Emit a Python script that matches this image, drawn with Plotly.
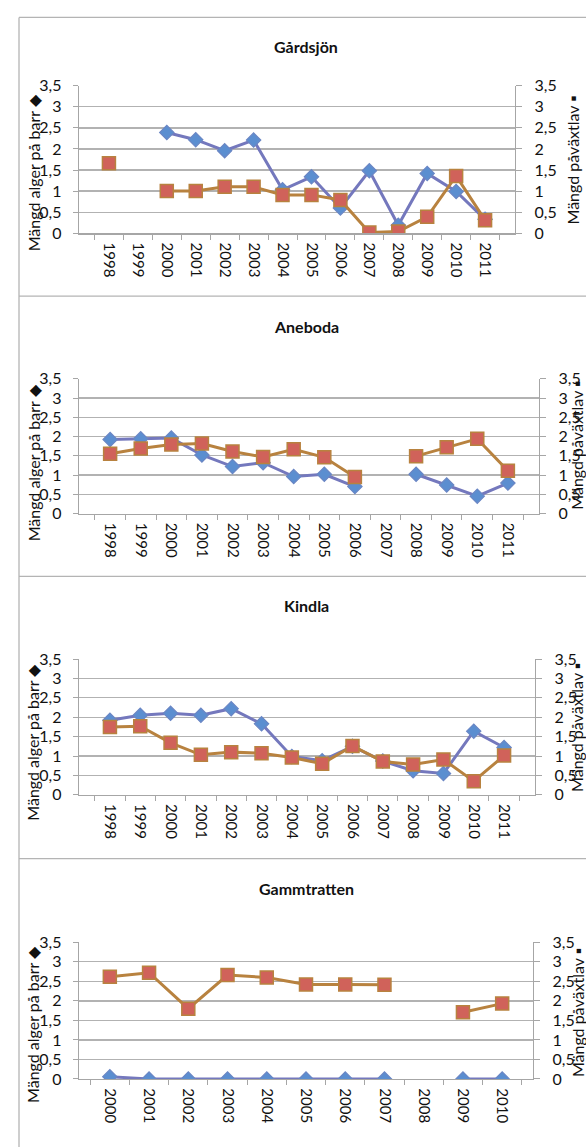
import plotly.graph_objects as go

W, H = 586, 1147

years_long = ["1998", "1999", "2000", "2001", "2002", "2003", "2004",
              "2005", "2006", "2007", "2008", "2009", "2010", "2011"]
years_gamm = ["2000", "2001", "2002", "2003", "2004", "2005", "2006",
              "2007", "2008", "2009", "2010"]

titles = ["Gårdsjön", "Aneboda", "Kindla", "Gammtratten"]

gardsjon_alger = [None, None, 2.39, 2.22, 1.96, 2.21, 1.03, 1.34, 0.60, 1.48, 0.19, 1.42, 0.99, 0.33]
gardsjon_lav = [1.66, None, 1.00, 1.00, 1.10, 1.10, 0.91, 0.91, 0.79, 0.02, 0.04, 0.39, 1.36, 0.31]

aneboda_alger = [1.92, 1.94, 1.96, 1.52, 1.22, 1.32, 0.96, 1.02, 0.70, None, 1.02, 0.74, 0.45, 0.79]
aneboda_lav = [1.55, 1.69, 1.79, 1.82, 1.61, 1.47, 1.67, 1.46, 0.95, None, 1.49, 1.72, 1.94, 1.11]

kindla_alger = [1.92, 2.05, 2.10, 2.05, 2.22, 1.83, 0.99, 0.88, 1.25, 0.87, 0.62, 0.55, 1.64, 1.22]
kindla_lav = [1.75, 1.77, 1.34, 1.03, 1.10, 1.07, 0.96, 0.80, 1.26, 0.86, 0.78, 0.91, 0.35, 1.01]

gamm_alger = [0.06, 0, 0, 0, 0, 0, 0, 0, None, 0, 0]
gamm_lav = [2.62, 2.72, 1.80, 2.66, 2.60, 2.42, 2.42, 2.41, None, 1.71, 1.93]

left_title = "Mängd alger på barr ◆"
right_title = "Mängd påväxtlav ▪"

panels = [
    dict(cats=years_long, a=gardsjon_alger, l=gardsjon_lav,
         x=(79, 515), y=(77, 227), title_y=37, lt_y=166, rt_x=572, rt_y=153),
    dict(cats=years_long, a=aneboda_alger, l=aneboda_lav,
         x=(79, 539), y=(375, 512), title_y=322, lt_y=461, rt_x=577, rt_y=443),
    dict(cats=years_long, a=kindla_alger, l=kindla_lav,
         x=(79, 535), y=(660, 798), title_y=606, lt_y=745, rt_x=577, rt_y=730),
    dict(cats=years_gamm, a=gamm_alger, l=gamm_lav,
         x=(79, 533), y=(948, 1087), title_y=893, lt_y=1032, rt_x=577, rt_y=1020),
]

def px(x):
    return x / W

def py(y):
    return 1 - y / H

FONT = "Lato, 'Open Sans', sans-serif"
GRID = "#b2b2b2"
AXIS = "#a6a6a6"
BLUE_LINE = "#7478bd"
BLUE_FILL = "#5b8ed0"
RED_FILL = "#d0625a"
RED_LINE = "#b8823f"

fig = go.Figure()
annotations = []
shapes = []

for i, p in enumerate(panels):
    n = i + 1
    xa = "x" if n == 1 else f"x{n}"
    ya = f"y{2*n-1}" if n > 1 else "y"
    yb = f"y{2*n}"
    fig.add_trace(go.Scatter(
        x=p["cats"], y=p["a"], xaxis=xa, yaxis=ya, mode="lines+markers",
        line=dict(color=BLUE_LINE, width=3), connectgaps=False,
        marker=dict(symbol="diamond", size=11, color=BLUE_FILL,
                    line=dict(color="#6a86c4", width=1.2)),
        showlegend=False, hoverinfo="skip"))
    fig.add_trace(go.Scatter(
        x=p["cats"], y=p["l"], xaxis=xa, yaxis=yb, mode="lines+markers",
        line=dict(color=RED_LINE, width=3), connectgaps=False,
        marker=dict(symbol="square", size=13, color=RED_FILL,
                    line=dict(color=RED_LINE, width=1.5)),
        showlegend=False, hoverinfo="skip"))

    xkey = "xaxis" if n == 1 else f"xaxis{n}"
    yakey = "yaxis" if n == 1 else f"yaxis{2*n-1}"
    ybkey = f"yaxis{2*n}"
    ya_name = "y" if n == 1 else f"y{2*n-1}"

    fig.layout[xkey] = dict(
        domain=[px(p["x"][0]), px(p["x"][1])], anchor=ya_name,
        type="category", categoryorder="array", categoryarray=p["cats"],
        tickmode="array", tickvals=p["cats"], ticktext=p["cats"],
        tickson="boundaries", ticks="outside", ticklen=5, tickcolor=AXIS,
        showline=True, linecolor=AXIS, linewidth=1.3, showgrid=False,
        tickangle=90, ticklabelstandoff=5,
        tickfont=dict(family=FONT, size=15, color="#111"),
        zeroline=False, fixedrange=True)
    fig.layout[yakey] = dict(
        domain=[py(p["y"][1]), py(p["y"][0])], anchor=xa,
        range=[0, 3.5], dtick=0.5, tick0=0, ticks="outside", ticklen=5,
        tickcolor=AXIS, showline=True, linecolor=AXIS, linewidth=1.3,
        showgrid=True, gridcolor=GRID, gridwidth=1.3, zeroline=False,
        ticklabelstandoff=8,
        tickfont=dict(family=FONT, size=16, color="#111"), fixedrange=True)
    fig.layout[ybkey] = dict(
        overlaying=ya_name, side="right", anchor=xa,
        range=[0, 3.5], dtick=0.5, tick0=0, ticks="outside", ticklen=6,
        tickcolor=AXIS, showline=True, linecolor=AXIS, linewidth=1.3,
        showgrid=False, zeroline=False, ticklabelstandoff=9,
        tickfont=dict(family=FONT, size=16, color="#111"), fixedrange=True)

    annotations.append(dict(
        text="<b>" + titles[i] + "</b>", x=px(306), y=py(p["title_y"]),
        xref="paper", yref="paper", showarrow=False, xanchor="center",
        yanchor="middle", font=dict(family=FONT, size=16, color="#111")))
    annotations.append(dict(
        text=left_title, x=px(33), y=py(p["lt_y"]), xref="paper", yref="paper",
        showarrow=False, textangle=-90, xanchor="center", yanchor="middle",
        font=dict(family=FONT, size=16, color="#111")))
    annotations.append(dict(
        text=right_title, x=px(p["rt_x"]), y=py(p["rt_y"]), xref="paper",
        yref="paper", showarrow=False, textangle=-90, xanchor="center",
        yanchor="middle", font=dict(family=FONT, size=16, color="#111")))

# panel borders
BORDER = "#b4b4b4"
for yb in [7.5, 291, 576, 863]:
    shapes.append(dict(type="line", xref="paper", yref="paper",
                       x0=px(19), x1=1.01, y0=py(yb), y1=py(yb),
                       line=dict(color=BORDER, width=1.3)))
shapes.append(dict(type="line", xref="paper", yref="paper",
                   x0=px(19), x1=px(19), y0=py(7.5), y1=-0.01,
                   line=dict(color=BORDER, width=1.3)))

fig.update_layout(
    width=W, height=H, margin=dict(l=0, r=0, t=0, b=0, pad=0),
    paper_bgcolor="white", plot_bgcolor="white", separators=",.",
    annotations=annotations, shapes=shapes, showlegend=False,
    font=dict(family=FONT))

post = (
    "document.documentElement.style.margin='0';"
    "document.body.style.margin='0';document.body.style.padding='0';"
    "document.body.style.overflow='hidden';"
    "document.documentElement.style.overflow='hidden';"
    "var gd=document.getElementById('{plot_id}');"
    "gd.style.position='absolute';gd.style.left='0px';gd.style.top='0px';"
)

fig.write_html("out.html", post_script=post,
               config={"displayModeBar": False, "staticPlot": True})
